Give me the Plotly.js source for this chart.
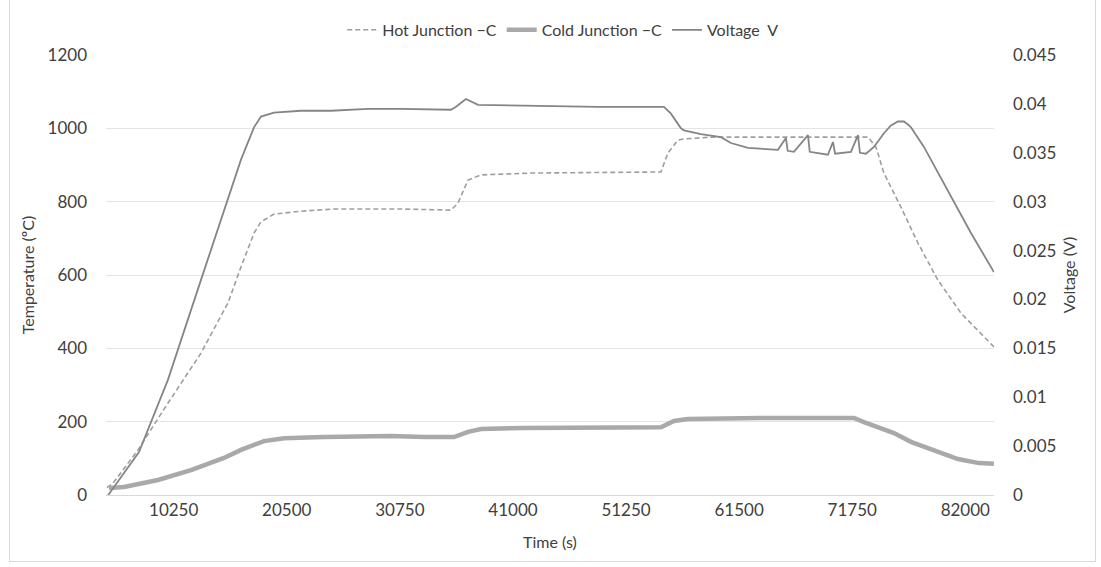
<!DOCTYPE html>
<html>
<head>
<meta charset="utf-8">
<script src="https://cdn.plot.ly/plotly-3.0.1.min.js"></script>
<style>
  html, body { margin: 0; padding: 0; background: #ffffff; }
  #wrap { position: relative; width: 1101px; height: 567px; overflow: hidden; }
  #frame { position: absolute; left: 9px; top: -2px; width: 1087px; height: 564px;
           border: 1px solid #d9d9d9; box-sizing: border-box; pointer-events: none; }
  #chart { position: absolute; left: 0; top: 0; width: 1101px; height: 567px; }
</style>
</head>
<body>
<div id="wrap">
  <div id="chart"></div>
  <div id="frame"></div>
</div>
<script>
// Thermocouple run: hot/cold junction temperatures (°C) and generated voltage (V) over time (s)

const timeHot = [4206, 4749, 7015, 9734, 12725, 15172, 16350, 17528, 18163, 19341, 21788, 24779,
  30851, 35383, 36017, 36924, 38101, 42633, 54414, 55049, 55955, 56499, 58946, 72540, 73174,
  73899, 74624, 76166, 77706, 79519, 81604, 84590];
const hotJunction = [20, 32, 123, 251, 387, 524, 622, 714, 745, 766, 774, 780,
  780, 777, 796, 859, 873, 878, 881, 933, 968, 971, 976, 976, 976,
  949, 878, 785, 687, 586, 496, 404];

const timeCold = [4387, 5746, 8828, 11819, 14809, 16350, 18435, 20247, 23872, 29945, 32936, 35655,
  36924, 38101, 41998, 48071, 54414, 55593, 56862, 63477, 71906, 72812, 74080, 75531, 77072,
  78613, 81332, 83236, 84590];
const coldJunction = [19, 22, 41, 68, 101, 123, 147, 155, 158, 161, 158, 158,
  172, 180, 183, 185, 185, 202, 207, 210, 210, 199, 185, 169, 145,
  128, 98, 87, 85];

const timeVoltage = [4296, 4387, 7106, 9734, 12725, 15172, 16350, 17528, 18163, 19341, 21788, 24507,
  27860, 30851, 35383, 35836, 36742, 37830, 42633, 48705, 54686, 55321, 56227, 56499, 58040,
  59852, 60758, 62299, 65018, 65743, 65900, 66468, 67737, 67900, 69549, 70003, 70200, 71634,
  72268, 72450, 72993, 73718, 74624, 75260, 75893, 76438, 76800, 77072, 78250, 80697, 82511, 84590];
const voltage = [0.0000, 0.0001, 0.0044, 0.0118, 0.0220, 0.0302, 0.0343, 0.0376, 0.0387, 0.0391, 0.0393, 0.0393,
  0.0395, 0.0395, 0.0394, 0.0397, 0.0405, 0.0399, 0.0398, 0.0397, 0.0397, 0.0390, 0.0375, 0.0373, 0.0369,
  0.0366, 0.0360, 0.0355, 0.0353, 0.0365, 0.0352, 0.0351, 0.0368, 0.0351, 0.0348, 0.0361, 0.0349, 0.0351,
  0.0368, 0.0350, 0.0349, 0.0356, 0.0370, 0.0378, 0.0382, 0.0382, 0.0379, 0.0376, 0.0356, 0.0305, 0.0268, 0.0228];

const timeTicks = [10250, 20500, 30750, 41000, 51250, 61500, 71750, 82000];
const timeTickText = ['10250', '20500', '30750', '41000', '51250', '61500', '71750', '82000'];

const FONT = 'Lato, "Open Sans", sans-serif';
const TEXT = '#404040';

const traces = [
  {
    x: timeHot, y: hotJunction, name: 'Hot Junction \u2212C', type: 'scatter', mode: 'lines',
    line: { color: '#9e9e9e', width: 1.6, dash: '5px,3px' }
  },
  {
    x: timeCold, y: coldJunction, name: 'Cold Junction \u2212C', type: 'scatter', mode: 'lines',
    line: { color: '#a9a9a9', width: 4.5 }
  },
  {
    x: timeVoltage, y: voltage, name: 'Voltage\u00a0\u00a0V', type: 'scatter', mode: 'lines',
    yaxis: 'y2', line: { color: '#858585', width: 1.8 }
  }
];

const layout = {
  width: 1101, height: 567,
  margin: { l: 106, r: 107, t: 55, b: 72 },
  paper_bgcolor: 'rgba(0,0,0,0)', plot_bgcolor: '#ffffff',
  font: { family: FONT, size: 17, color: TEXT },
  showlegend: true,
  legend: {
    orientation: 'h', x: 0.266, xanchor: 'left', y: 1.057, yanchor: 'middle',
    font: { family: FONT, size: 16, color: TEXT }, traceorder: 'normal',
    itemwidth: 30
  },
  xaxis: {
    type: 'linear', range: [4115, 84600],
    tickvals: timeTicks, ticktext: timeTickText,
    showgrid: false, zeroline: false, showline: true, linecolor: '#d9d9d9', linewidth: 1,
    ticks: '', ticklen: 0, tickfont: { family: FONT, size: 17, color: TEXT },
    title: { text: 'Time (s)', font: { family: FONT, size: 16, color: TEXT }, standoff: 17 }
  },
  yaxis: {
    range: [0, 1200], dtick: 200, tick0: 0,
    showgrid: true, gridcolor: '#e4e4e4', gridwidth: 1, zeroline: false, showline: false,
    ticks: '', ticklabelstandoff: 18, tickfont: { family: FONT, size: 17, color: TEXT },
    title: { text: 'Temperature (\u00baC)', font: { family: FONT, size: 16, color: TEXT }, standoff: 8 }
  },
  yaxis2: {
    overlaying: 'y', side: 'right', range: [0, 0.045], dtick: 0.005, tick0: 0,
    showgrid: false, zeroline: false, showline: false,
    ticks: '', ticklabelstandoff: 18, tickfont: { family: FONT, size: 17, color: TEXT },
    title: { text: 'Voltage (V)', font: { family: FONT, size: 16, color: TEXT }, standoff: 8 }
  }
};

Plotly.newPlot('chart', traces, layout, { displayModeBar: false, staticPlot: true });
</script>
</body>
</html>
